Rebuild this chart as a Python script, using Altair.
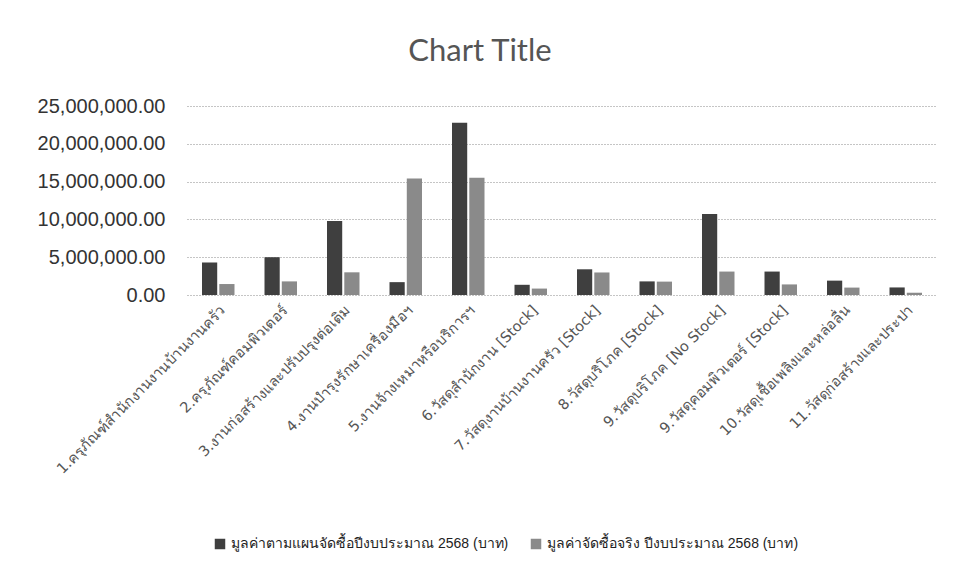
import altair as alt
import pandas as pd

categories = [
    "1.ครุภัณฑ์สำนักงานงานบ้านงานครัว",
    "2.ครุภัณฑ์คอมพิวเตอร์",
    "3.งานก่อสร้างและปรับปรุงต่อเติม",
    "4.งานบำรุงรักษาเครื่องมือฯ",
    "5.งานจ้างเหมาหรือบริการฯ",
    "6.วัสดุสำนักงาน [Stock]",
    "7.วัสดุงานบ้านงานครัว [Stock]",
    "8.วัสดุบริโภค [Stock]",
    "9.วัสดุบริโภค [No Stock]",
    "9.วัสดุคอมพิวเตอร์ [Stock]",
    "10.วัสดุเชื้อเพลิงและหล่อลื่น",
    "11.วัสดุก่อสร้างและประปา",
]
series_names = [
    "มูลค่าตามแผนจัดซื้อปีงบประมาณ 2568 (บาท)",
    "มูลค่าจัดซื้อจริง ปีงบประมาณ 2568 (บาท)",
]
plan_values = [4300000, 5000000, 9800000, 1700000, 22800000, 1350000,
               3400000, 1800000, 10700000, 3100000, 1900000, 1000000]
actual_values = [1450000, 1800000, 3000000, 15400000, 15500000, 850000,
                 2980000, 1770000, 3100000, 1400000, 980000, 300000]
y_ticks = [0, 5000000, 10000000, 15000000, 20000000, 25000000]

rows = []
for c, p, a in zip(categories, plan_values, actual_values):
    rows.append({"cat": c, "series": series_names[0], "value": p})
    rows.append({"cat": c, "series": series_names[1], "value": a})
df = pd.DataFrame(rows)

chart = alt.Chart(df).mark_bar().encode(
    x=alt.X("cat:N", sort=categories, title=None,
            scale=alt.Scale(paddingInner=0.48, paddingOuter=0.24),
            axis=alt.Axis(labelAngle=-45, labelFontSize=14.5, labelColor="#555555",
                          labelFont="DejaVu Sans", labelLimit=400, ticks=False,
                          domain=False, labelPadding=8)),
    xOffset=alt.XOffset("series:N", sort=series_names,
                        scale=alt.Scale(paddingInner=0.12)),
    y=alt.Y("value:Q", title=None,
            scale=alt.Scale(domain=[0, 25000000]),
            axis=alt.Axis(values=y_ticks, format=",.2f", labelFontSize=20,
                          labelColor="#333333", labelFont="Liberation Sans",
                          ticks=False, domain=False, labelPadding=22,
                          gridColor="#8a8a8a", gridDash=[1, 2], gridWidth=1)),
    color=alt.Color("series:N", sort=series_names,
                    scale=alt.Scale(domain=series_names, range=["#3f3f3f", "#8a8a8a"]),
                    legend=alt.Legend(title=None, orient="none", direction="horizontal",
                                      legendX=26, legendY=431, symbolType="square",
                                      symbolSize=110, labelFontSize=14, labelLimit=400,
                                      labelColor="#222222", columnPadding=20,
                                      symbolStrokeWidth=0)),
).properties(
    width=750,
    height=189,
    title=alt.TitleParams("Chart Title", fontSize=31, font="Lato", fontWeight="normal",
                          color="#555555", anchor="middle", dx=-82, offset=28),
    autosize=alt.AutoSizeParams(type="none"),
    padding={"left": 179, "top": 98, "right": 4, "bottom": 270},
).configure_view(stroke=None)

chart.save("out.html", embed_options={"renderer": "svg", "actions": False})
